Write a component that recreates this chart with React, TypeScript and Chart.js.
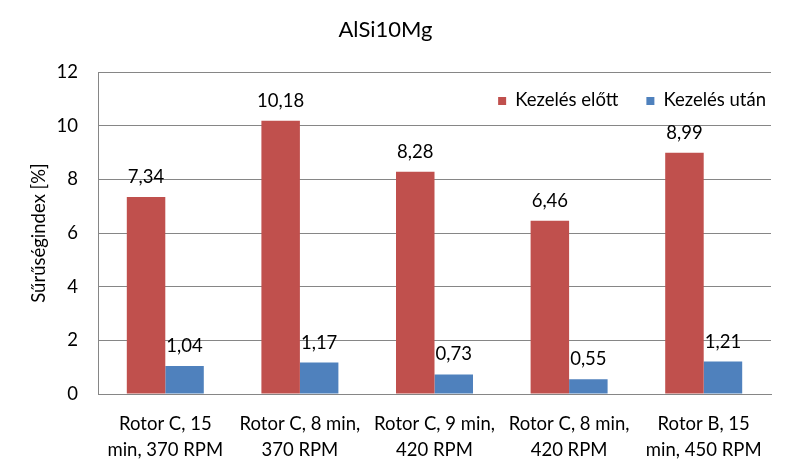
import React, { useEffect, useRef } from "react";
import { Chart, registerables } from "chart.js";

Chart.register(...registerables);

const chartTitle = "AlSi10Mg";
const yAxisTitle = "Sűrűségindex [%]";
const categories: string[][] = [
  ["Rotor C, 15", "min, 370 RPM"],
  ["Rotor C, 8 min,", "370 RPM"],
  ["Rotor C, 9 min,", "420 RPM"],
  ["Rotor C, 8 min,", "420 RPM"],
  ["Rotor B, 15", "min, 450 RPM"],
];
const seriesNames = ["Kezelés előtt", "Kezelés után"];
const beforeValues = [7.34, 10.18, 8.28, 6.46, 8.99];
const afterValues = [1.04, 1.17, 0.73, 0.55, 1.21];
const seriesColors = ["#C0504D", "#4F81BD"];

const FONT = "Lato";
const TEXT = "#000000";
const GRID = "#868686";
const LABEL_SIZE = 18.5;

const fmt = (v: number) => v.toFixed(2).replace(".", ",");

const dataLabelPlugin = {
  id: "dataLabels",
  afterDatasetsDraw(chart: any) {
    const ctx = chart.ctx;
    ctx.save();
    ctx.font = `${LABEL_SIZE}px ${FONT}`;
    ctx.fillStyle = TEXT;
    ctx.textAlign = "center";
    ctx.textBaseline = "alphabetic";
    chart.data.datasets.forEach((ds: any, di: number) => {
      const meta = chart.getDatasetMeta(di);
      meta.data.forEach((bar: any, i: number) => {
        ctx.fillText(fmt(ds.data[i]), bar.x, bar.y - 14);
      });
    });
    ctx.restore();
  },
};

const legendPlugin = {
  id: "insideLegend",
  afterDraw(chart: any) {
    const ctx = chart.ctx;
    const area = chart.chartArea;
    ctx.save();
    ctx.font = `${LABEL_SIZE}px ${FONT}`;
    ctx.textBaseline = "middle";
    ctx.textAlign = "left";
    const box = 8;
    const boxGap = 9;
    const itemGap = 28;
    const widths = seriesNames.map((n) => ctx.measureText(n).width);
    let total = 0;
    widths.forEach((w, i) => {
      total += box + boxGap + w + (i < widths.length - 1 ? itemGap : 0);
    });
    let x = area.right - 5 - total;
    const cy = area.top + 28;
    seriesNames.forEach((n, i) => {
      ctx.fillStyle = seriesColors[i];
      ctx.fillRect(x, cy - box / 2 + 1, box, box);
      ctx.fillStyle = TEXT;
      ctx.fillText(n, x + box + boxGap, cy);
      x += box + boxGap + widths[i] + itemGap;
    });
    ctx.restore();
  },
};

export default function App() {
  const ref = useRef<HTMLCanvasElement | null>(null);

  useEffect(() => {
    document.body.style.margin = "0";
    const canvas = ref.current;
    if (!canvas) return;
    const chart = new Chart(canvas, {
      type: "bar",
      data: {
        labels: categories,
        datasets: [
          {
            label: seriesNames[0],
            data: beforeValues,
            backgroundColor: seriesColors[0],
            categoryPercentage: 0.572,
            barPercentage: 1.0,
          },
          {
            label: seriesNames[1],
            data: afterValues,
            backgroundColor: seriesColors[1],
            categoryPercentage: 0.572,
            barPercentage: 1.0,
          },
        ],
      },
      options: {
        animation: false,
        responsive: false,
        maintainAspectRatio: false,
        layout: { padding: { left: 0, right: 23, top: 0, bottom: 0 } },
        plugins: {
          legend: { display: false },
          tooltip: { enabled: false },
          title: {
            display: true,
            text: chartTitle,
            color: TEXT,
            font: { family: FONT, size: 22, weight: "normal" },
            padding: { top: 17, bottom: 28.6 },
          },
        },
        scales: {
          x: {
            grid: { display: false },
            border: { display: true, color: GRID, width: 1 },
            ticks: {
              color: TEXT,
              font: { family: FONT, size: LABEL_SIZE, lineHeight: 1.4 },
              padding: 9,
              maxRotation: 0,
              autoSkip: false,
            },
            afterFit(scale: any) {
              scale.height = 78;
            },
          },
          y: {
            min: 0,
            max: 12,
            ticks: {
              stepSize: 2,
              color: TEXT,
              font: { family: FONT, size: LABEL_SIZE },
              padding: 20,
            },
            grid: { color: GRID, lineWidth: 1, drawTicks: false },
            border: { display: true, color: GRID, width: 1 },
            title: {
              display: true,
              text: yAxisTitle,
              color: TEXT,
              font: { family: FONT, size: LABEL_SIZE, weight: "normal" },
              padding: { top: 28, bottom: 0 },
            },
            afterFit(scale: any) {
              scale.width = 98;
            },
          },
        },
      },
      plugins: [dataLabelPlugin, legendPlugin],
    });
    return () => chart.destroy();
  }, []);

  return (
    <div style={{ width: 794, height: 472 }}>
      <canvas ref={ref} width={794} height={472} style={{ width: 794, height: 472, display: "block" }} />
    </div>
  );
}
